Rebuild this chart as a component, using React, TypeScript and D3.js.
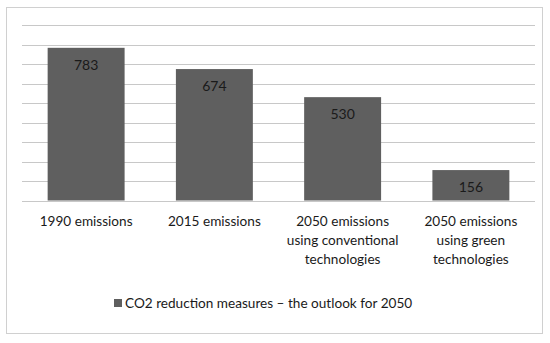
import { useEffect, useRef } from "react";
import * as d3 from "d3";

const categories = [
  ["1990 emissions"],
  ["2015 emissions"],
  ["2050 emissions", "using conventional", "technologies"],
  ["2050 emissions", "using green", "technologies"],
];
const values = [783, 674, 530, 156];
const yTicks = [0, 100, 200, 300, 400, 500, 600, 700, 800, 900];
const seriesName = "CO2 reduction measures \u2013 the outlook for 2050";

export default function App() {
  const ref = useRef<SVGSVGElement>(null);

  useEffect(() => {
    const width = 550, height = 343;
    const margin = { top: 25, right: 15, bottom: 142.5, left: 22 };
    const font = "Lato, 'Open Sans', sans-serif";
    const fs = 13.6;

    const svg = d3.select(ref.current);
    svg.selectAll("*").remove();
    svg.attr("width", width).attr("height", height);

    svg.append("rect")
      .attr("width", width).attr("height", height).attr("fill", "#fff");

    // outer frame
    svg.append("rect")
      .attr("x", 6.5).attr("y", 7.5)
      .attr("width", 536).attr("height", 326)
      .attr("fill", "none").attr("stroke", "#d0d0d0").attr("stroke-width", 1);

    const x = d3.scaleBand<number>()
      .domain(values.map((_, i) => i))
      .range([margin.left, width - margin.right])
      .paddingInner(0.4)
      .paddingOuter(0.2);

    const y = d3.scaleLinear()
      .domain([0, 900])
      .range([height - margin.bottom, margin.top]);

    // gridlines
    svg.append("g")
      .selectAll("line")
      .data(yTicks.slice(1))
      .join("line")
      .attr("x1", margin.left).attr("x2", width - margin.right)
      .attr("y1", d => Math.round(y(d)) + 0.5).attr("y2", d => Math.round(y(d)) + 0.5)
      .attr("stroke", "#c8c8c8").attr("stroke-width", 1);

    // bars
    svg.append("g")
      .selectAll("rect")
      .data(values)
      .join("rect")
      .attr("x", (_, i) => x(i)!)
      .attr("y", d => y(d))
      .attr("width", x.bandwidth())
      .attr("height", d => y(0) - y(d))
      .attr("fill", "#5f5f5f");

    // baseline
    svg.append("line")
      .attr("x1", margin.left).attr("x2", width - margin.right)
      .attr("y1", Math.round(y(0)) + 0.5).attr("y2", Math.round(y(0)) + 0.5)
      .attr("stroke", "#c8c8c8");

    // value labels
    svg.append("g")
      .selectAll("text")
      .data(values)
      .join("text")
      .attr("x", (_, i) => x(i)! + x.bandwidth() / 2)
      .attr("y", d => y(d) + 22)
      .attr("text-anchor", "middle")
      .attr("font-family", font).attr("font-size", fs + 0.4)
      .attr("fill", "#1a1a1a")
      .text(d => d);

    // category labels
    const cat = svg.append("g")
      .selectAll("text")
      .data(categories)
      .join("text")
      .attr("x", (_, i) => x(i)! + x.bandwidth() / 2)
      .attr("y", 226)
      .attr("text-anchor", "middle")
      .attr("font-family", font).attr("font-size", fs)
      .attr("fill", "#1a1a1a");
    cat.selectAll("tspan")
      .data(d => d)
      .join("tspan")
      .attr("x", function () { return (this as any).parentNode.getAttribute("x"); })
      .attr("dy", (_, j) => (j === 0 ? 0 : 19))
      .text(d => d);

    // legend
    const legend = svg.append("g");
    legend.append("rect")
      .attr("x", 114).attr("y", 299).attr("width", 8).attr("height", 8)
      .attr("fill", "#5f5f5f");
    legend.append("text")
      .attr("x", 125).attr("y", 308)
      .attr("font-family", font).attr("font-size", fs)
      .attr("fill", "#1a1a1a")
      .text(seriesName);
  }, []);

  return (
    <div>
      <svg ref={ref} style={{ position: "absolute", left: 0, top: 0 }} />
    </div>
  );
}
